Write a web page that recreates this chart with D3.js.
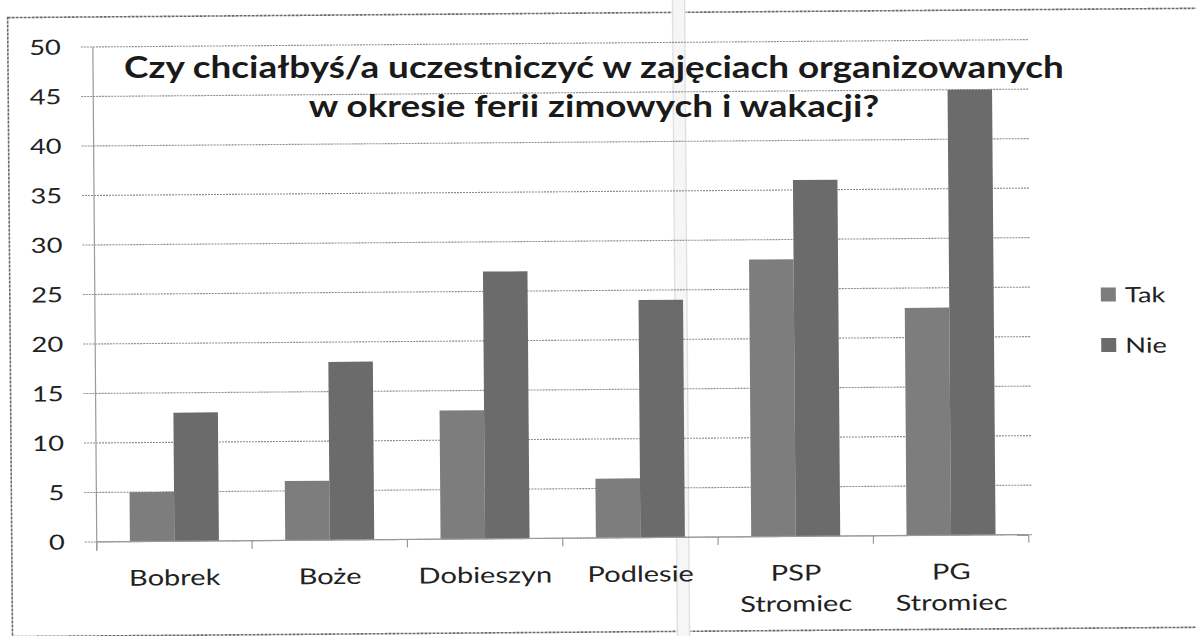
<!DOCTYPE html>
<html><head><meta charset="utf-8">
<script src="https://cdn.jsdelivr.net/npm/d3@7"></script>
<style>
html,body{margin:0;padding:0;background:#fff;}
svg{display:block;font-family:Lato,"Open Sans",sans-serif;}
</style></head>
<body>
<svg id="c" width="1196" height="636"></svg>
<script>
const categories = [["Bobrek"],["Boże"],["Dobieszyn"],["Podlesie"],["PSP","Stromiec"],["PG","Stromiec"]];
const seriesNames = ["Tak","Nie"];
const takValues = [5,6,13,6,28,23];
const nieValues = [13,18,27,24,36,45];
const yTicks = [0,5,10,15,20,25,30,35,40,45,50];
const titleLines = ["Czy chciałbyś/a uczestniczyć w zajęciach organizowanych","w okresie ferii zimowych i wakacji?"];
const colors = {Tak:"#7d7d7d", Nie:"#6b6b6b"};

(function(){
const svg = d3.select("#c");
const W=1196,H=636;
const g = svg.append("g").attr("transform",`rotate(-0.45 ${W/2} ${H/2})`);

const pLeft=95,pRight=1027,pTop=43,pBottom=538;
const SX=1.3;
const catKeys = categories.map(c=>c.join(" "));
const x0 = d3.scaleBand().domain(catKeys).range([pLeft,pRight]).paddingInner(0.427).paddingOuter(0.2135);
const x1 = d3.scaleBand().domain(seriesNames).range([0,x0.bandwidth()]).padding(0);
const y = d3.scaleLinear().domain([0,50]).range([pBottom,pTop]);

// outer border
g.append("rect").attr("x",10).attr("y",13).attr("width",1250).attr("height",619)
 .attr("fill","none").attr("stroke","#6a6a6a").attr("stroke-width",1.6).attr("stroke-dasharray","3,1");

// scan fold artefact
g.append("rect").attr("x",674).attr("y",-10).attr("width",14).attr("height",H+20).attr("fill","#f6f6f6");
g.append("line").attr("x1",675).attr("x2",675).attr("y1",-10).attr("y2",H+10).attr("stroke","#e0e0e0").attr("stroke-width",1.2);
g.append("line").attr("x1",687).attr("x2",687).attr("y1",-10).attr("y2",H+10).attr("stroke","#e0e0e0").attr("stroke-width",1.2);

// gridlines
g.append("g").selectAll("line").data(yTicks).join("line")
 .attr("x1",pLeft-12).attr("x2",pRight+4).attr("y1",d=>y(d)).attr("y2",d=>y(d))
 .attr("stroke","#8c8c8c").attr("stroke-width",1.1).attr("stroke-dasharray","2,1");

// y axis line
g.append("line").attr("x1",pLeft).attr("x2",pLeft).attr("y1",y(50)).attr("y2",pBottom+9)
 .attr("stroke","#9a9a9a").attr("stroke-width",1.2);

function stext(parent, txt, xx, yy, size, anchor, weight, sx){
  return parent.append("text").attr("transform",`translate(${xx},${yy}) scale(${sx},1)`)
   .attr("text-anchor",anchor).attr("font-size",size).attr("font-weight",weight||"normal")
   .attr("fill","#222").text(txt);
}

// y tick labels
yTicks.forEach(t=>{
  stext(g, String(t), 63, y(t)+7.5, 21, "end", "normal", SX);
});

// bars
const groups = g.append("g").selectAll("g").data(categories).join("g")
 .attr("transform",(d,i)=>`translate(${x0(catKeys[i])},0)`);
groups.each(function(d,i){
  const vals = {Tak:takValues[i], Nie:nieValues[i]};
  d3.select(this).selectAll("rect").data(seriesNames).join("rect")
   .attr("x",s=>x1(s)).attr("width",x1.bandwidth())
   .attr("y",s=>y(vals[s])).attr("height",s=>y(0)-y(vals[s]))
   .attr("fill",s=>colors[s]);
});

// x axis line & ticks
g.append("line").attr("x1",pLeft).attr("x2",pRight).attr("y1",pBottom).attr("y2",pBottom)
 .attr("stroke","#9a9a9a").attr("stroke-width",1.2);
const step = x0.step();
g.append("g").selectAll("line").data(d3.range(catKeys.length+1)).join("line")
 .attr("x1",i=>pLeft+i*step).attr("x2",i=>pLeft+i*step).attr("y1",pBottom).attr("y2",pBottom+8)
 .attr("stroke","#9a9a9a").attr("stroke-width",1.2);

// x labels
categories.forEach((lines,i)=>{
  const cx = x0(catKeys[i])+x0.bandwidth()/2;
  const t = g.append("text").attr("transform",`translate(${cx},582) scale(1.32,1)`)
   .attr("text-anchor","middle").attr("font-size",22).attr("fill","#222");
  lines.forEach((ln,j)=>{
    t.append("tspan").attr("x",0).attr("dy",j===0?0:31).text(ln);
  });
});

// legend
seriesNames.forEach((s,j)=>{
  const ly = 298.5 + j*50.5;
  g.append("rect").attr("x",1101).attr("y",ly-7).attr("width",15).attr("height",14).attr("fill",colors[s]);
  stext(g, s, 1125, ly+8, 21, "start", "normal", SX);
});

// title (outside the tilted group so its line boxes stay level)
const tsize=31;
const probe = stext(svg, titleLines[0], 0, 0, tsize, "start", "bold", 1);
const w1 = probe.node().getComputedTextLength();
probe.remove();
const tsx = 940/w1;
titleLines.forEach((ln,j)=>{
  stext(svg, ln, 594, 78+j*39, tsize, "middle", "bold", tsx).attr("fill","#1a1a1a");
});
})();
</script>
</body></html>
